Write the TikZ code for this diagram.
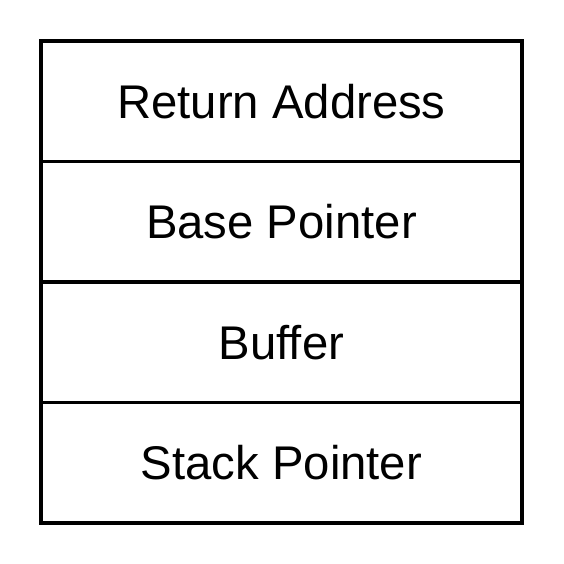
\documentclass[tikz,border=0pt]{standalone}
\usepackage{fontspec}
\setmainfont{Liberation Sans}
\usetikzlibrary{positioning}
\tikzset{
    cell/.style={draw, line width=2pt, outer sep=0pt, minimum width=9.62cm,
        minimum height=2.41cm, font=\fontsize{26.9}{30}\selectfont}
}
\begin{document}
\begin{tikzpicture}[node distance=0pt]
    % Rahmen der Grafik
    \useasboundingbox (0,0) rectangle (11.28,11.28);
    
    % Stapel von oben nach unten
    \node[cell] (ret) at (5.63,9.255) {Return Address};
    \node[cell, below=of ret] (base) {Base Pointer};
    \node[cell, below=of base] (buf) {Buffer};
    \node[cell, below=of buf] (sp) {Stack Pointer};
\end{tikzpicture}
\end{document}
